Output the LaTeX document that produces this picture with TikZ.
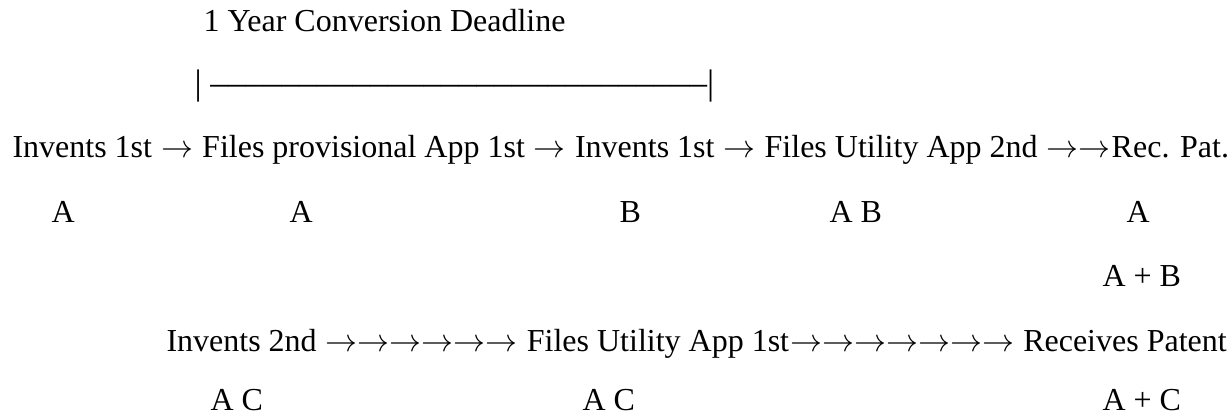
\documentclass[tikz,border=0pt]{standalone}
\usepackage{fontspec}
\setmainfont{Liberation Serif}
\usepackage{tikz}
\newcommand{\ra}{$\rightarrow$}

\begin{document}
\begin{tikzpicture}[x=0.375pt, y=-0.375pt,
  txt/.style={inner sep=0pt, anchor=base west, font=\fontsize{12}{14}\selectfont},
  span/.style={inner sep=0pt, anchor=base west, font=\fontsize{13.3}{16}\selectfont}]
\useasboundingbox (0,0) rectangle (1227,418);
%%%%% Deadline %%%%%
\node[txt] (dead) at (203,32) {1 Year Conversion Deadline};
\node[span] (year) at (194,95) {|\ ––––––––––––––––––––––––––––|};
%%%%% Party A and B %%%%%
\node[txt] (invA) at (12,158) {Invents 1st};
\node[txt] (arrA) at (invA.base east) {\ \ra\ \null};
\node[txt] (provA) at (arrA.base east) {Files provisional App 1st};
\node[txt] (arrB) at (provA.base east) {\ \ra\ \null};
\node[txt] (invB) at (arrB.base east) {Invents 1st};
\node[txt] (arrC) at (invB.base east) {\ \ra\ \null};
\node[txt] (utilB) at (arrC.base east) {Files Utility App 2nd};
\node[txt] (arrD) at (utilB.base east) {\ \ra\ra};
\node[txt] (patA) at (arrD.base east) {Rec. Pat.};
\node[txt] (lblA) at (51,223) {A};
\node[txt] (lblB) at (289,223) {A};
\node[txt] (lblC) at (619,223) {B};
\node[txt] (lblD) at (829,223) {A B};
\node[txt] (lblE) at (1126,223) {A};
\node[txt] (lblF) at (1102,287) {A + B};
%%%%% Party A and C %%%%%
\node[txt] (invC) at (166,352) {Invents 2nd};
\node[txt] (arrE) at (invC.base east) {\ \ra\ra\ra\ra\ra\ra\ \null};
\node[txt] (utilC) at (arrE.base east) {Files Utility App 1st};
\node[txt] (arrF) at (utilC.base east) {\ra\ra\ra\ra\ra\ra\ra\ \null};
\node[txt] (patC) at (arrF.base east) {Receives Patent};
\node[txt] (lblG) at (210,411) {A C};
\node[txt] (lblH) at (582,411) {A C};
\node[txt] (lblI) at (1102,411) {A + C};
\end{tikzpicture}
\end{document}
